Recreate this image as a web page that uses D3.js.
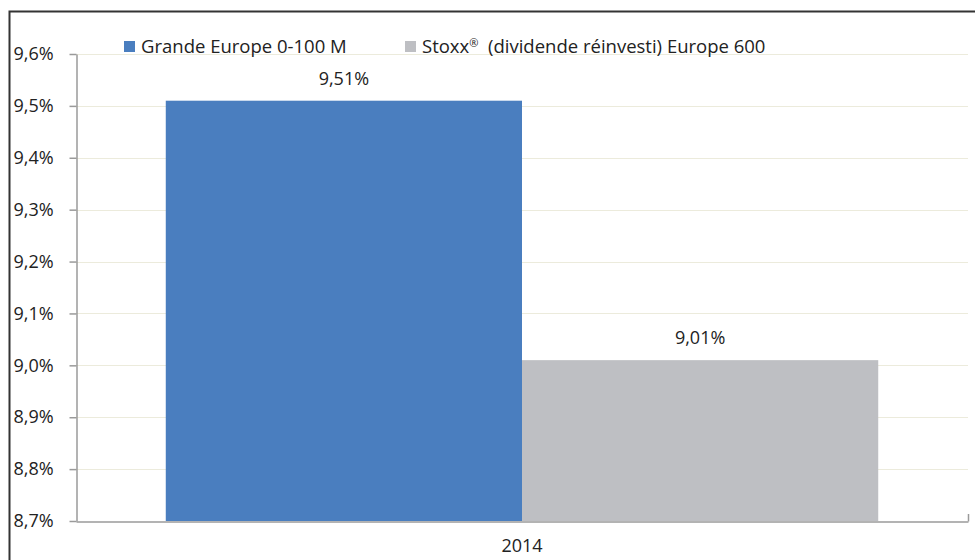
<!DOCTYPE html>
<html>
<head>
<meta charset="utf-8">
<script src="https://cdn.jsdelivr.net/npm/d3@7"></script>
<style>
  body { margin: 0; background: #fff; }
  text { font-family: "Open Sans", "Noto Sans", sans-serif; fill: #222; }
</style>
</head>
<body>
<svg id="chart" width="975" height="560"></svg>
<script>
// data
var categories = ["2014"];
var seriesNames = ["Grande Europe 0-100 M", "Stoxx\u00ae  (dividende r\u00e9investi) Europe 600"];
var seriesValues = [9.51, 9.01];
var seriesColors = ["#4a7ebf", "#bebfc3"];
var yTicks = [8.7, 8.8, 8.9, 9.0, 9.1, 9.2, 9.3, 9.4, 9.5, 9.6];

var svg = d3.select("#chart");
var plotLeft = 76, plotRight = 968, plotTop = 54, plotBottom = 521;
var fontSize = "18px";

// frame
svg.append("path")
    .attr("d", "M9.5,560 V11.5 H975")
    .attr("fill", "none")
    .attr("stroke", "#333")
    .attr("stroke-width", 2);

var y = d3.scaleLinear().domain([8.7, 9.6]).range([plotBottom, plotTop]);
var x0 = d3.scaleBand().domain(categories).range([plotLeft, plotRight]).paddingInner(0).paddingOuter(0.126);
var x1 = d3.scaleBand().domain(seriesNames).range([0, x0.bandwidth()]);

var fmt = function(d) { return d.toFixed(1).replace(".", ",") + "%"; };

// gridlines
svg.append("g")
    .selectAll("line")
    .data(yTicks.slice(1))
    .enter()
    .append("line")
    .attr("x1", plotLeft)
    .attr("x2", plotRight)
    .attr("y1", function(d) { return Math.round(y(d)) + 0.5; })
    .attr("y2", function(d) { return Math.round(y(d)) + 0.5; })
    .attr("stroke", "#ecebdc")
    .attr("stroke-width", 1);

// bars
var rows = seriesNames.map(function(s, i) {
    return { name: s, value: seriesValues[i], color: seriesColors[i], cat: categories[0] };
});

svg.append("g")
    .selectAll("rect")
    .data(rows)
    .enter()
    .append("rect")
    .attr("x", function(d) { return x0(d.cat) + x1(d.name); })
    .attr("y", function(d) { return y(d.value); })
    .attr("width", x1.bandwidth())
    .attr("height", function(d) { return plotBottom - y(d.value); })
    .attr("fill", function(d) { return d.color; });

// value labels
svg.append("g")
    .selectAll("text")
    .data(rows)
    .enter()
    .append("text")
    .attr("x", function(d) { return x0(d.cat) + x1(d.name) + x1.bandwidth() / 2; })
    .attr("y", function(d) { return y(d.value) - 16; })
    .attr("text-anchor", "middle")
    .attr("font-size", fontSize)
    .text(function(d) { return d.value.toFixed(2).replace(".", ",") + "%"; });

// y axis
var yAxis = svg.append("g")
    .attr("transform", "translate(" + (plotLeft + 0.5) + ",0)")
    .call(d3.axisLeft(y).tickValues(yTicks).tickFormat(fmt).tickSize(7).tickSizeOuter(0));
yAxis.selectAll("line, path").attr("stroke", "#9a9a9a").attr("stroke-width", 1.5);
yAxis.selectAll("text")
    .attr("font-size", fontSize)
    .attr("fill", "#222")
    .style("font-family", "'Open Sans', 'Noto Sans', sans-serif")
    .attr("x", -63)
    .attr("text-anchor", "start");

// x axis
var xAxis = svg.append("g")
    .attr("transform", "translate(0," + (plotBottom + 0.5) + ")")
    .call(d3.axisBottom(x0).tickSize(0).tickSizeOuter(0));
xAxis.select(".domain").attr("stroke", "#9a9a9a").attr("stroke-width", 1.5);
xAxis.selectAll("text")
    .attr("font-size", fontSize)
    .attr("fill", "#222")
    .attr("dy", "1.55em")
    .style("font-family", "'Open Sans', 'Noto Sans', sans-serif");
svg.append("line")
    .attr("x1", plotRight + 0.5).attr("x2", plotRight + 0.5)
    .attr("y1", plotBottom - 7).attr("y2", plotBottom + 0.5)
    .attr("stroke", "#9a9a9a").attr("stroke-width", 1.5);

// legend
var legendX = [124, 405];
var legend = svg.append("g")
    .selectAll("g")
    .data(rows)
    .enter()
    .append("g")
    .attr("transform", function(d, i) { return "translate(" + legendX[i] + ",41)"; });
legend.append("rect")
    .attr("width", 11).attr("height", 11)
    .attr("fill", function(d) { return d.color; });
legend.append("text")
    .attr("x", 17).attr("y", 11.5)
    .attr("font-size", "18.5px")
    .style("white-space", "pre")
    .each(function(d) {
        var t = d3.select(this);
        var parts = d.name.split("\u00ae");
        t.append("tspan").text(parts[0]);
        if (parts.length > 1) {
            t.append("tspan").attr("font-size", "11px").attr("dy", -6).text("\u00ae");
            t.append("tspan").attr("dy", 6).text(parts[1]);
        }
    });
</script>
</body>
</html>
